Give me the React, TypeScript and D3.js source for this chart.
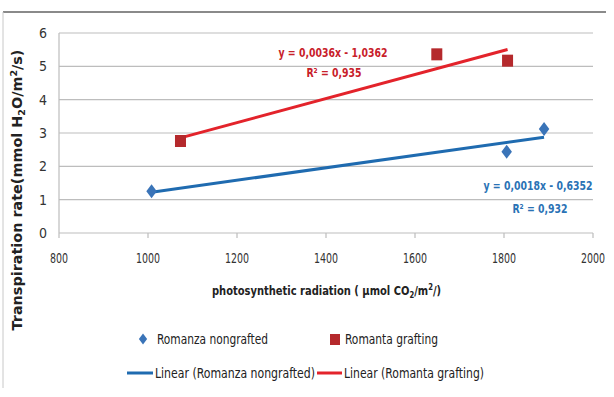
import * as d3 from "d3"

// measured points
const nongraftedX = [1008, 1806, 1890]
const nongraftedY = [1.25, 2.44, 3.12]
const graftingX = [1073, 1649, 1808]
const graftingY = [2.76, 5.36, 5.17]

const xTicks = [800, 1000, 1200, 1400, 1600, 1800, 2000]
const yTicks = [0, 1, 2, 3, 4, 5, 6]

const blueEq = ["y = 0,0018x - 0,6352", "R² = 0,932"]
const redEq = ["y = 0,0036x - 1,0362", "R² = 0,935"]
const seriesNames = ["Romanza nongrafted", "Romanta grafting"]

const FONT = "'DejaVu Sans Condensed', 'Noto Sans', sans-serif"

function fit(xs: number[], ys: number[]) {
  const mx = d3.mean(xs) as number
  const my = d3.mean(ys) as number
  const sxy = d3.sum(xs, (x, i) => (x - mx) * (ys[i] - my))
  const sxx = d3.sum(xs, x => (x - mx) ** 2)
  const slope = sxy / sxx
  const x0 = d3.min(xs) as number
  const x1 = d3.max(xs) as number
  return [[x0, my + slope * (x0 - mx)], [x1, my + slope * (x1 - mx)]] as [number, number][]
}

export default function App() {
  const width = 614
  const height = 397
  const margin = { left: 59, right: 21, top: 33, bottom: 164 }

  const x = d3.scaleLinear().domain([800, 2000]).range([margin.left, width - margin.right])
  const y = d3.scaleLinear().domain([0, 6]).range([height - margin.bottom, margin.top])

  const line = d3.line<[number, number]>().x(d => x(d[0])).y(d => y(d[1]))
  const blueFit = fit(nongraftedX, nongraftedY)
  const redFit = fit(graftingX, graftingY)

  const blueLine = "#1f6bb0"
  const redLine = "#e3232b"
  const blueMark = "#3a74b8"
  const redMark = "#b5292c"

  const diamond = (cx: number, cy: number, r: number) =>
    `M${cx},${cy - r}L${cx + r * 0.75},${cy}L${cx},${cy + r}L${cx - r * 0.75},${cy}Z`

  const fit13 = { fontFamily: FONT, fontSize: 13, lengthAdjust: "spacingAndGlyphs" as const }

  // narrow bold label (Calibri-like look)
  const eq = (cx: number, cy: number, s: string, fill: string) => (
    <g transform={`translate(${cx},${cy}) scale(0.8,1)`}>
      <text textAnchor="middle" fontFamily={FONT} fontWeight="bold" fontSize={13} fill={fill}>{s}</text>
    </g>
  )

  return (
    <svg width={width} height={height} style={{ position: "absolute", left: 0, top: 0, background: "#fff" }}>
      {/* frame */}
      <line x1={3} x2={606} y1={12} y2={12} stroke="#8a8a8a" strokeWidth={2} />
      <line x1={3} x2={3} y1={12} y2={388} stroke="#c8c8c8" strokeWidth={1} />

      {/* gridlines */}
      {yTicks.map(t => (
        <line key={t} x1={x(800)} x2={x(2000)} y1={y(t)} y2={y(t)} stroke="#bdbdbd" strokeWidth={1.2} />
      ))}
      <line x1={x(800)} x2={x(800)} y1={y(6)} y2={y(0)} stroke="#bdbdbd" strokeWidth={1.2} />
      {xTicks.map(t => (
        <line key={t} x1={x(t)} x2={x(t)} y1={y(0)} y2={y(0) + 5} stroke="#bdbdbd" strokeWidth={1.2} />
      ))}

      {/* tick labels */}
      {yTicks.map(t => (
        <text key={t} x={x(800) - 12} y={y(t) + 5} textAnchor="end" fontFamily={FONT} fontSize={14} fill="#333">{t}</text>
      ))}
      {xTicks.map(t => (
        <g key={t} transform={`translate(${x(t)},${y(0) + 30}) scale(0.78,1)`}>
          <text textAnchor="middle" fontFamily={FONT} fontSize={13.5} fill="#333">{t}</text>
        </g>
      ))}

      {/* trend lines */}
      <path d={line(blueFit) as string} fill="none" stroke={blueLine} strokeWidth={3} />
      <path d={line(redFit) as string} fill="none" stroke={redLine} strokeWidth={3} />

      {/* markers */}
      {nongraftedX.map((v, i) => (
        <path key={i} d={diamond(x(v), y(nongraftedY[i]), 7)} fill={blueMark} />
      ))}
      {graftingX.map((v, i) => (
        <rect key={i} x={x(v) - 5.5} y={y(graftingY[i]) - 6} width={11} height={12} fill={redMark} />
      ))}

      {/* equations */}
      {eq(333, 57, redEq[0], "#c8202a")}
      {eq(334, 77, redEq[1], "#c8202a")}
      {eq(538, 190, blueEq[0], "#2a72b5")}
      {eq(540, 213, blueEq[1], "#2a72b5")}

      {/* axis titles */}
      <g transform="translate(212,295) scale(0.85,1)">
        <text fontFamily={FONT} fontWeight="bold" fontSize={13} fill="#222">
          photosynthetic radiation ( µmol CO<tspan fontSize={9} dy={3}>2</tspan><tspan dy={-3}>/m</tspan><tspan fontSize={9} dy={-5}>2</tspan><tspan dy={5}>/)</tspan>
        </text>
      </g>
      <text transform="translate(22,190) rotate(-90)" textAnchor="middle" fontFamily="'DejaVu Sans', sans-serif" fontWeight="bold" fontSize={14.4} fill="#222">
        Transpiration  rate(mmol H<tspan fontSize={9.5} dy={3}>2</tspan><tspan dy={-3}>O/m</tspan><tspan fontSize={9.5} dy={-5}>2</tspan><tspan dy={5}>/s)</tspan>
      </text>

      {/* legend */}
      <path d={diamond(143, 339, 5.5)} fill={blueMark} />
      <text x={157} y={344} {...fit13} fontSize={14} fill="#222" textLength={111}>{seriesNames[0]}</text>
      <rect x={330} y={334} width={10} height={11} fill={redMark} />
      <text x={345} y={344} {...fit13} fontSize={14} fill="#222" textLength={93}>{seriesNames[1]}</text>
      <line x1={127} x2={153} y1={373} y2={373} stroke={blueLine} strokeWidth={3} />
      <text x={155} y={378} {...fit13} fontSize={14} fill="#222" textLength={160}>{`Linear (${seriesNames[0]})`}</text>
      <line x1={317} x2={342} y1={373} y2={373} stroke={redLine} strokeWidth={3} />
      <text x={344} y={378} {...fit13} fontSize={14} fill="#222" textLength={140}>{`Linear (${seriesNames[1]})`}</text>
    </svg>
  )
}
